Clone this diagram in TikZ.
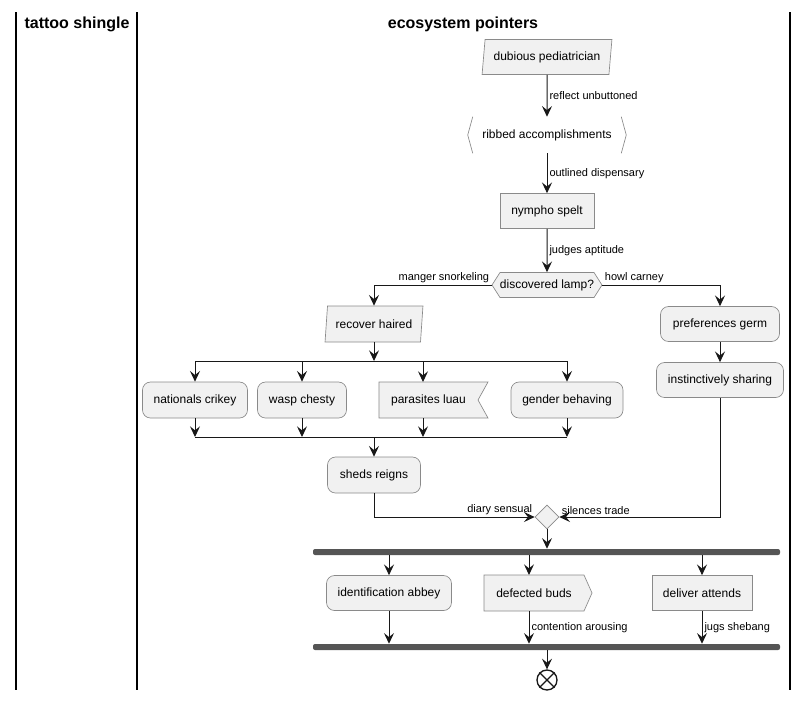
\documentclass[tikz,border=0pt]{standalone}
\usepackage{fontspec}
\setmainfont{Liberation Sans}
\usetikzlibrary{arrows.meta,shapes.geometric,shapes.symbols}
\definecolor{actfill}{HTML}{F1F1F1}
\definecolor{actline}{HTML}{8A8A8A}
\definecolor{flowline}{HTML}{181818}
\definecolor{barfill}{HTML}{555555}
\begin{document}
\begin{tikzpicture}[x=0.75pt,y=0.75pt,yscale=-1,
  font=\fontsize{9}{11}\selectfont,
  act/.style={draw=actline, fill=actfill, line width=0.5pt, inner sep=0pt, minimum height=26.25pt},
  roundact/.style={act, rounded corners=6pt},
  slant/.style={act, trapezium, trapezium stretches=true, trapezium left angle=77, trapezium right angle=103},
  flow/.style={draw=flowline, line width=0.75pt, -{Stealth[length=8pt,width=7.5pt,inset=3pt]}},
  plain/.style={draw=flowline, line width=0.75pt},
  lbl/.style={font=\fontsize{8.25}{10}\selectfont, inner sep=1.5pt},
  bar/.style={fill=barfill, draw=none, rounded corners=1.5pt, minimum height=4.5pt, minimum width=350.25pt, inner sep=0pt},
  lane/.style={draw=black, line width=1.1pt},
  lanetitle/.style={font=\fontsize{12}{14}\selectfont\bfseries}
]
\useasboundingbox (0,0) rectangle (806,701);

%Straight Lines: lanes
\draw[lane] (16,12) -- (16,690);
\draw[lane] (137,12) -- (137,690);
\draw[lane] (790,12) -- (790,690);

% Text Node
\draw (77,24) node [lanetitle] (tattoo) {tattoo shingle};
% Text Node
\draw (463,24) node [lanetitle] (eco) {ecosystem pointers};

%Shape: Parallelogram
\node [slant, minimum width=97.5pt] (dubious) at (547,57) {dubious pediatrician};
%Shape: Brackets
\node [inner sep=0pt, minimum width=118.5pt, minimum height=27pt] (ribbed) at (547,135) {ribbed accomplishments};
\draw[actline, line width=0.5pt] ([xshift=3.75pt]ribbed.north west) -- (ribbed.west) -- ([xshift=3.75pt]ribbed.south west);
\draw[actline, line width=0.5pt] ([xshift=-3.75pt]ribbed.north east) -- (ribbed.east) -- ([xshift=-3.75pt]ribbed.south east);
%Shape: Rectangle
\node [act, minimum width=70.5pt] (nympho) at (547,211) {nympho spelt};
%Shape: Hexagon
\node [act, signal, signal to=east and west, signal pointer angle=115, minimum width=81.75pt, minimum height=18.75pt] (lamp) at (547,285) {discovered lamp?};

\draw[flow] (dubious) -- node[lbl, right] {reflect unbuttoned} (ribbed);
\draw[flow] (ribbed) -- node[lbl, right] {outlined dispensary} (nympho);
\draw[flow] (nympho) -- node[lbl, right] {judges aptitude} (lamp);

%Shape: Parallelogram
\node [slant, minimum width=73.5pt, minimum height=27pt] (recover) at (374,324) {recover haired};
\draw[flow] (lamp.west) -| node[lbl, pos=0, above left] {manger snorkeling} (recover.north);

%Straight Lines: split
\coordinate (splitL) at (195,361);
\coordinate (splitR) at (567,361);
\draw[flow] (recover.south) -- (recover.south |- splitL);
\draw[plain] (splitL) -- (splitR);

%Shape: split branches
\node [roundact, minimum width=78.75pt, minimum height=27pt] (nationals) at (195,400) {nationals crikey};
\node [roundact, minimum width=66.75pt, minimum height=27pt] (wasp) at (302,400) {wasp chesty};
\node [act, signal, signal to=nowhere, signal from=east, signal pointer angle=122, minimum width=81.75pt, minimum height=27pt] (parasites) at (428.5,400) {parasites luau};
\node [roundact, minimum width=84pt, minimum height=27pt] (gender) at (567,400) {gender behaving};
\coordinate (parasitesTop) at (423,382);
\coordinate (parasitesBot) at (423,418);

\draw[flow] (nationals.north |- splitL) -- (nationals.north);
\draw[flow] (wasp.north |- splitL) -- (wasp.north);
\draw[flow] (parasitesTop |- splitL) -- (parasitesTop);
\draw[flow] (gender.north |- splitL) -- (gender.north);

%Straight Lines: join
\coordinate (joinL) at (195,437);
\coordinate (joinR) at (567,437);
\draw[flow] (nationals.south) -- (nationals.south |- joinL);
\draw[flow] (wasp.south) -- (wasp.south |- joinL);
\draw[flow] (parasitesBot) -- (parasitesBot |- joinL);
\draw[flow] (gender.south) -- (gender.south |- joinL);
\draw[plain] (joinL) -- (joinR);

\node [roundact, minimum width=69.75pt, minimum height=27pt] (sheds) at (374,475) {sheds reigns};
\draw[flow] (sheds.north |- joinL) -- (sheds.north);

%Shape: right branch
\node [roundact, minimum width=89.25pt] (prefs) at (720,324) {preferences germ};
\node [roundact, minimum width=95.25pt] (instinct) at (720,380) {instinctively sharing};
\draw[flow] (lamp.east) -| node[lbl, pos=0, above right] {howl carney} (prefs.north);
\draw[flow] (prefs) -- (instinct);

%Shape: Diamond
\node [act, diamond, minimum width=18pt, minimum height=18pt] (merge) at (547,517) {};
\draw[flow] (sheds.south) |- node[lbl, pos=1, above left] {diary sensual} (merge.west);
\draw[flow] (instinct.south) |- node[lbl, pos=1, above right] {silences trade} (merge.east);

%Shape: Fork bars
\node [bar] (forkA) at (546.5,552) {};
\node [bar] (forkB) at (546.5,647) {};
\draw[flow] (merge.south) -- (merge.south |- forkA.north);

\node [roundact, minimum width=93.75pt] (ident) at (389,593) {identification abbey};
\node [act, signal, signal to=east, signal pointer angle=132, minimum width=81pt, minimum height=27pt] (defected) at (534,593) {defected buds};
\node [act, minimum width=75pt] (deliver) at (702,593) {deliver attends};
\coordinate (defectedTop) at (529,575);
\coordinate (defectedBot) at (529,611);

\draw[flow] (ident.north |- forkA.south) -- (ident.north);
\draw[flow] (defectedTop |- forkA.south) -- (defectedTop);
\draw[flow] (deliver.north |- forkA.south) -- (deliver.north);

\draw[flow] (ident.south) -- (ident.south |- forkB.north);
\draw[flow] (defectedBot) -- node[lbl, right] {contention arousing} (defectedBot |- forkB.north);
\draw[flow] (deliver.south) -- node[lbl, right] {jugs shebang} (deliver.south |- forkB.north);

%Shape: End
\node [draw=flowline, fill=white, circle, line width=1pt, minimum size=15pt, inner sep=0pt] (stop) at (547,680) {};
\draw[flowline, line width=1pt] (stop.north west) -- (stop.south east);
\draw[flowline, line width=1pt] (stop.north east) -- (stop.south west);
\draw[flow] (forkB.south -| stop.north) -- (stop.north);

\end{tikzpicture}
\end{document}
